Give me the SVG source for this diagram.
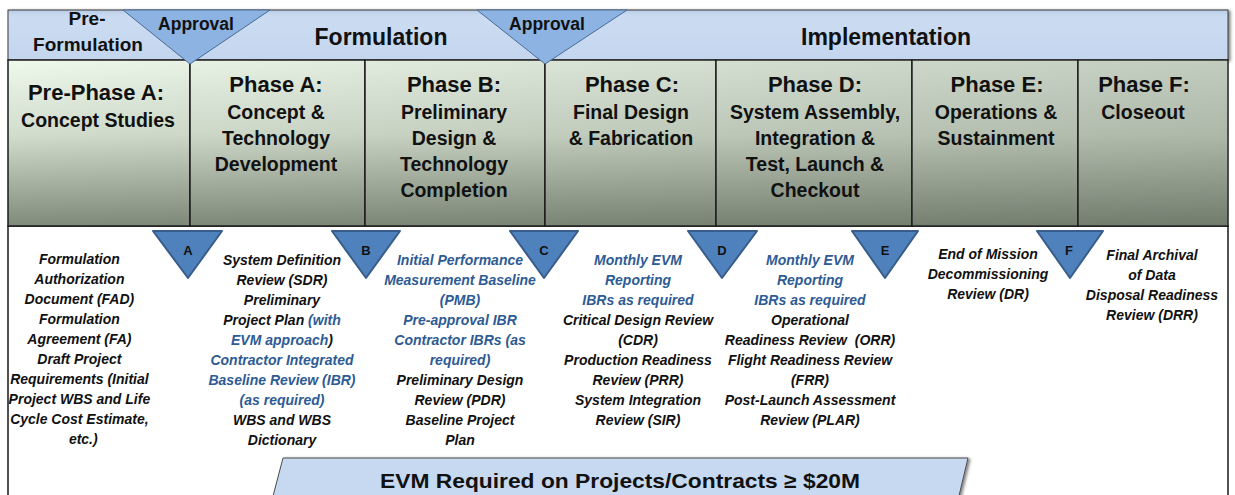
<svg xmlns="http://www.w3.org/2000/svg" width="1235" height="495" viewBox="0 0 1235 495">
  <style>
    .hdr { font-family: "Liberation Sans", Arial, sans-serif; font-weight: bold; fill: #111; text-anchor: middle; }
    .ttl { font-family: "Liberation Sans", Arial, sans-serif; font-weight: bold; font-size: 22px; fill: #111; text-anchor: middle; }
    .sub { font-family: "Liberation Sans", Arial, sans-serif; font-weight: bold; font-size: 19.5px; fill: #111; text-anchor: middle; }
    .body { font-family: "Liberation Sans", Arial, sans-serif; font-weight: bold; font-style: italic; font-size: 14px; fill: #111; text-anchor: middle; white-space: pre; }
    .blue { fill: #2e5b94; }
    .ms { fill: #4f81bd; stroke: #385d8a; stroke-width: 2; stroke-linejoin: round; }
    .msl { font-family: "Liberation Sans", Arial, sans-serif; font-weight: bold; font-size: 13px; fill: #111; text-anchor: middle; }
    .appr { fill: #8db3e2; stroke: #4a6a94; stroke-width: 1; }
    .phase { stroke: #1a1a1a; stroke-width: 1.5; }
  </style>
  <defs>
    <linearGradient id="band" x1="0" y1="0" x2="0" y2="1">
      <stop offset="0" stop-color="#b9cce6"/>
      <stop offset="0.12" stop-color="#cbdcf2"/>
      <stop offset="1" stop-color="#c4d6ee"/>
    </linearGradient>
    <linearGradient id="pv" gradientUnits="userSpaceOnUse" x1="0" y1="60" x2="0" y2="226">
      <stop offset="0" stop-color="#eef8eb"/>
      <stop offset="0.45" stop-color="#d2ddce"/>
      <stop offset="1" stop-color="#7f8a7b"/>
    </linearGradient>
    <linearGradient id="ph" gradientUnits="userSpaceOnUse" x1="8" y1="0" x2="1228" y2="0">
      <stop offset="0" stop-color="#4a5446" stop-opacity="0"/>
      <stop offset="1" stop-color="#4a5446" stop-opacity="0.27"/>
    </linearGradient>
    <filter id="sh" x="-5%" y="-20%" width="110%" height="150%">
      <feDropShadow dx="2" dy="1" stdDeviation="1.5" flood-color="#000" flood-opacity="0.5"/>
    </filter>
  </defs>

  <rect x="0" y="0" width="1235" height="495" fill="#ffffff"/>

  <!-- bottom content area -->
  <g id="content-area">
    <rect x="8" y="226" width="1220" height="280" fill="#ffffff" stroke="#1a1a1a" stroke-width="1.5"/>
  </g>

  <!-- top lifecycle band -->
  <g id="lifecycle-band">
    <rect x="8" y="10" width="1220" height="50" fill="url(#band)" stroke="#3a3a3a" stroke-width="1" filter="url(#sh)"/>
    <text class="hdr" x="87" y="25" font-size="19">Pre-</text>
    <text class="hdr" x="88" y="51" font-size="19">Formulation</text>
    <text class="hdr" x="381" y="45" font-size="23">Formulation</text>
    <text class="hdr" x="886" y="45" font-size="23">Implementation</text>
  </g>

  <!-- phase boxes -->
  <g id="phase-prea">
    <rect class="phase" x="8" y="60" width="182" height="166" fill="url(#pv)"/>
    <rect x="8" y="60" width="182" height="166" fill="url(#ph)"/>
    <text class="ttl" x="96" y="100">Pre-Phase A:</text>
    <text class="sub" x="98" y="127">Concept Studies</text>
  </g>
  <g id="phase-a">
    <rect class="phase" x="190" y="60" width="175" height="166" fill="url(#pv)"/>
    <rect x="190" y="60" width="175" height="166" fill="url(#ph)"/>
    <text class="ttl" x="276" y="92">Phase A:</text>
    <text class="sub" x="276" y="119">Concept &amp;</text>
    <text class="sub" x="276" y="145">Technology</text>
    <text class="sub" x="276" y="171">Development</text>
  </g>
  <g id="phase-b">
    <rect class="phase" x="365" y="60" width="180" height="166" fill="url(#pv)"/>
    <rect x="365" y="60" width="180" height="166" fill="url(#ph)"/>
    <text class="ttl" x="454" y="92">Phase B:</text>
    <text class="sub" x="454" y="119">Preliminary</text>
    <text class="sub" x="454" y="145">Design &amp;</text>
    <text class="sub" x="454" y="171">Technology</text>
    <text class="sub" x="454" y="197">Completion</text>
  </g>
  <g id="phase-c">
    <rect class="phase" x="545" y="60" width="171" height="166" fill="url(#pv)"/>
    <rect x="545" y="60" width="171" height="166" fill="url(#ph)"/>
    <text class="ttl" x="632" y="92">Phase C:</text>
    <text class="sub" x="631" y="119">Final Design</text>
    <text class="sub" x="631" y="145">&amp; Fabrication</text>
  </g>
  <g id="phase-d">
    <rect class="phase" x="716" y="60" width="196" height="166" fill="url(#pv)"/>
    <rect x="716" y="60" width="196" height="166" fill="url(#ph)"/>
    <text class="ttl" x="815" y="92">Phase D:</text>
    <text class="sub" x="815" y="119">System Assembly,</text>
    <text class="sub" x="815" y="145">Integration &amp;</text>
    <text class="sub" x="815" y="171">Test, Launch &amp;</text>
    <text class="sub" x="815" y="197">Checkout</text>
  </g>
  <g id="phase-e">
    <rect class="phase" x="912" y="60" width="166" height="166" fill="url(#pv)"/>
    <rect x="912" y="60" width="166" height="166" fill="url(#ph)"/>
    <text class="ttl" x="997" y="92">Phase E:</text>
    <text class="sub" x="996" y="119">Operations &amp;</text>
    <text class="sub" x="996" y="145">Sustainment</text>
  </g>
  <g id="phase-f">
    <rect class="phase" x="1078" y="60" width="150" height="166" fill="url(#pv)"/>
    <rect x="1078" y="60" width="150" height="166" fill="url(#ph)"/>
    <text class="ttl" x="1144" y="92">Phase F:</text>
    <text class="sub" x="1143" y="119">Closeout</text>
  </g>

  <!-- approval triangles -->
  <g id="approval-1">
    <polygon class="appr" points="123,10 270,10 190,64"/>
    <text class="hdr" x="196" y="30" font-size="17.5">Approval</text>
  </g>
  <g id="approval-2">
    <polygon class="appr" points="477,10 627,10 545,64"/>
    <text class="hdr" x="547" y="30" font-size="17.5">Approval</text>
  </g>

  <!-- milestone triangles -->
  <g id="milestone-a"><polygon class="ms" points="153,231 222,231 188,278"/><text class="msl" x="188" y="255">A</text></g>
  <g id="milestone-b"><polygon class="ms" points="332,231 400,231 366,278"/><text class="msl" x="366" y="255">B</text></g>
  <g id="milestone-c"><polygon class="ms" points="510,231 578,231 544,278"/><text class="msl" x="544" y="255">C</text></g>
  <g id="milestone-d"><polygon class="ms" points="688,231 757,231 722,278"/><text class="msl" x="722" y="255">D</text></g>
  <g id="milestone-e"><polygon class="ms" points="852,231 918,231 885,278"/><text class="msl" x="885" y="255">E</text></g>
  <g id="milestone-f"><polygon class="ms" points="1037,231 1103,231 1070,278"/><text class="msl" x="1069" y="255">F</text></g>

  <!-- deliverable text columns -->
  <g id="col-prea">
    <text class="body">
      <tspan x="93" y="264">Formulation</tspan>
      <tspan x="93" dy="20">Authorization</tspan>
      <tspan x="93" dy="20">Document (FAD)</tspan>
      <tspan x="93" dy="20">Formulation</tspan>
      <tspan x="93" dy="20">Agreement (FA)</tspan>
      <tspan x="93" dy="20">Draft Project</tspan>
      <tspan x="93" dy="20">Requirements (Initial</tspan>
      <tspan x="93" dy="20">Project WBS and Life</tspan>
      <tspan x="93" dy="20">Cycle Cost Estimate,</tspan>
      <tspan x="93" dy="20">etc.)</tspan>
    </text>
  </g>
  <g id="col-a">
    <text class="body" x="282" y="265">System Definition</text>
    <text class="body" x="282" y="285">Review (SDR)</text>
    <text class="body" x="282" y="305">Preliminary</text>
    <text class="body" x="282" y="325">Project Plan <tspan class="blue">(with</tspan></text>
    <text class="body" x="282" y="345"><tspan class="blue">EVM approach</tspan>)</text>
    <text class="body blue" x="282" y="365">Contractor Integrated</text>
    <text class="body blue" x="282" y="385">Baseline Review (IBR)</text>
    <text class="body blue" x="282" y="405">(as required)</text>
    <text class="body" x="282" y="425">WBS and WBS</text>
    <text class="body" x="282" y="445">Dictionary</text>
  </g>
  <g id="col-b">
    <text class="body blue" x="460" y="265">Initial Performance</text>
    <text class="body blue" x="460" y="285">Measurement Baseline</text>
    <text class="body blue" x="460" y="305">(PMB)</text>
    <text class="body blue" x="460" y="325">Pre-approval IBR</text>
    <text class="body blue" x="460" y="345">Contractor IBRs (as</text>
    <text class="body blue" x="460" y="365">required)</text>
    <text class="body" x="460" y="385">Preliminary Design</text>
    <text class="body" x="460" y="405">Review (PDR)</text>
    <text class="body" x="460" y="425">Baseline Project</text>
    <text class="body" x="460" y="445">Plan</text>
  </g>
  <g id="col-c">
    <text class="body blue" x="638" y="265">Monthly EVM</text>
    <text class="body blue" x="638" y="285">Reporting</text>
    <text class="body blue" x="638" y="305">IBRs as required</text>
    <text class="body" x="638" y="325">Critical Design Review</text>
    <text class="body" x="638" y="345">(CDR)</text>
    <text class="body" x="638" y="365">Production Readiness</text>
    <text class="body" x="638" y="385">Review (PRR)</text>
    <text class="body" x="638" y="405">System Integration</text>
    <text class="body" x="638" y="425">Review (SIR)</text>
  </g>
  <g id="col-d">
    <text class="body blue" x="810" y="265">Monthly EVM</text>
    <text class="body blue" x="810" y="285">Reporting</text>
    <text class="body blue" x="810" y="305">IBRs as required</text>
    <text class="body" x="810" y="325">Operational</text>
    <text class="body" x="810" y="345">Readiness Review  (ORR)</text>
    <text class="body" x="810" y="365">Flight Readiness Review</text>
    <text class="body" x="810" y="385">(FRR)</text>
    <text class="body" x="810" y="405">Post-Launch Assessment</text>
    <text class="body" x="810" y="425">Review (PLAR)</text>
  </g>
  <g id="col-e">
    <text class="body" x="988" y="259">End of Mission</text>
    <text class="body" x="988" y="279">Decommissioning</text>
    <text class="body" x="988" y="299">Review (DR)</text>
  </g>
  <g id="col-f">
    <text class="body" x="1152" y="260">Final Archival</text>
    <text class="body" x="1152" y="280">of Data</text>
    <text class="body" x="1152" y="300">Disposal Readiness</text>
    <text class="body" x="1152" y="320">Review (DRR)</text>
  </g>

  <!-- EVM banner -->
  <g id="evm-banner">
    <polygon points="283,458 968,458 958,500 272,500" fill="#c6d9f1" stroke="#4d4d4d" stroke-width="1" filter="url(#sh)"/>
    <text class="hdr" x="620" y="488" font-size="21" textLength="480" lengthAdjust="spacingAndGlyphs">EVM Required on Projects/Contracts ≥ $20M</text>
  </g>

  <g id="connectors"/>
</svg>
